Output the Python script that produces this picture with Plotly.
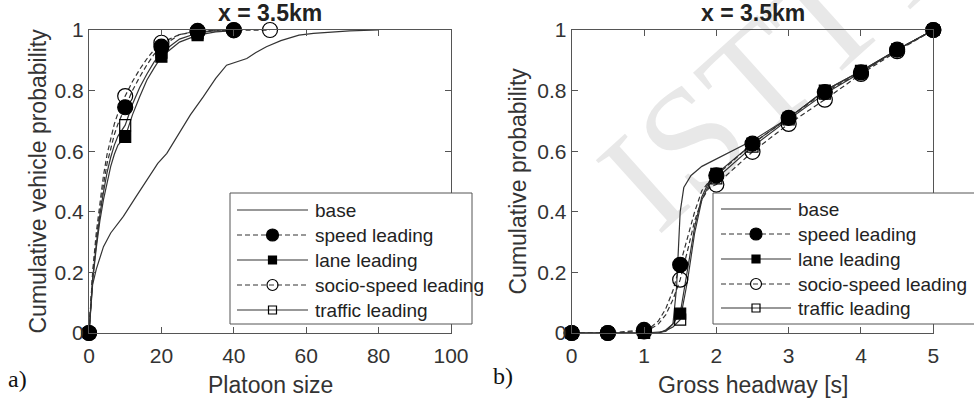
import plotly.graph_objects as go

# ---------------- Panel a: platoon size CDF ----------------
a_base_x = [0, 1, 2, 4, 6, 9.5, 13, 16, 19, 21.5, 25, 28, 31.6, 35, 38, 41, 43.6, 46, 49, 53, 58, 62, 66, 72, 80]
a_base_y = [0, 0.16, 0.21, 0.285, 0.33, 0.385, 0.45, 0.505, 0.56, 0.593, 0.66, 0.72, 0.78, 0.84, 0.884, 0.897, 0.906, 0.925, 0.945, 0.965, 0.983, 0.989, 0.993, 0.997, 1.0]

a_speed_x = [0, 1, 2, 3, 4, 5, 6, 7, 8, 10, 12, 14, 16, 18, 20, 25, 30, 35, 40]
a_speed_y = [0, 0.19, 0.31, 0.41, 0.49, 0.56, 0.61, 0.655, 0.69, 0.745, 0.80, 0.845, 0.885, 0.92, 0.945, 0.985, 0.997, 0.999, 1.0]
a_speed_mk = [0, 10, 20, 30, 40]

a_lane_x = [0, 1, 2, 3, 4, 5, 6, 7, 8, 10, 12, 14, 16, 18, 20, 25, 30, 35, 40]
a_lane_y = [0, 0.17, 0.28, 0.37, 0.44, 0.50, 0.55, 0.59, 0.62, 0.647, 0.72, 0.78, 0.835, 0.875, 0.912, 0.96, 0.983, 0.994, 0.998]
a_lane_mk = [0, 10, 20, 30]

a_socio_x = [0, 1, 2, 3, 4, 5, 6, 7, 8, 10, 12, 14, 16, 18, 20, 25, 30, 40, 50]
a_socio_y = [0, 0.20, 0.33, 0.43, 0.52, 0.59, 0.645, 0.69, 0.725, 0.782, 0.83, 0.87, 0.905, 0.935, 0.958, 0.985, 0.995, 0.999, 1.0]
a_socio_mk = [0, 10, 20, 30, 40, 50]

a_traffic_x = [0, 1, 2, 3, 4, 5, 6, 7, 8, 10, 12, 14, 16, 18, 20, 25, 30, 35]
a_traffic_y = [0, 0.18, 0.29, 0.39, 0.465, 0.53, 0.58, 0.62, 0.65, 0.686, 0.755, 0.81, 0.855, 0.895, 0.925, 0.97, 0.99, 0.998]
a_traffic_mk = [0, 10, 20, 30]

# ---------------- Panel b: gross headway CDF ----------------
b_base_x = [0, 0.5, 1, 1.3, 1.4, 1.45, 1.5, 1.55, 1.65, 1.8, 2, 2.5, 3, 3.5, 4, 4.5, 5]
b_base_y = [0, 0, 0, 0.005, 0.03, 0.15, 0.40, 0.48, 0.52, 0.55, 0.575, 0.635, 0.71, 0.80, 0.865, 0.935, 1.0]

b_speed_x = [0, 0.5, 1, 1.1, 1.2, 1.3, 1.4, 1.5, 1.6, 1.7, 1.8, 1.9, 2, 2.5, 3, 3.5, 4, 4.5, 5]
b_speed_y = [0, 0, 0.01, 0.02, 0.04, 0.08, 0.14, 0.225, 0.31, 0.40, 0.47, 0.50, 0.52, 0.625, 0.71, 0.795, 0.86, 0.935, 1.0]

b_lane_x = [0, 0.5, 1, 1.2, 1.3, 1.4, 1.5, 1.6, 1.7, 1.8, 1.9, 2, 2.5, 3, 3.5, 4, 4.5, 5]
b_lane_y = [0, 0, 0, 0.0, 0.01, 0.03, 0.064, 0.20, 0.35, 0.45, 0.50, 0.525, 0.625, 0.71, 0.80, 0.865, 0.935, 1.0]

b_socio_x = [0, 0.5, 1, 1.1, 1.2, 1.3, 1.4, 1.5, 1.6, 1.7, 1.8, 1.9, 2, 2.5, 3, 3.5, 4, 4.5, 5]
b_socio_y = [0, 0, 0.005, 0.015, 0.03, 0.06, 0.11, 0.176, 0.27, 0.37, 0.44, 0.48, 0.49, 0.598, 0.69, 0.77, 0.855, 0.93, 1.0]

b_traffic_x = [0, 0.5, 1, 1.2, 1.3, 1.4, 1.5, 1.6, 1.7, 1.8, 1.9, 2, 2.5, 3, 3.5, 4, 4.5, 5]
b_traffic_y = [0, 0, 0, 0.0, 0.008, 0.02, 0.044, 0.17, 0.33, 0.44, 0.49, 0.51, 0.615, 0.705, 0.79, 0.86, 0.935, 1.0]

b_marker_x = [0, 0.5, 1, 1.5, 2, 2.5, 3, 3.5, 4, 4.5, 5]

series_names = ["base", "speed leading", "lane leading", "socio-speed leading", "traffic leading"]
a_xticks = [0, 20, 40, 60, 80, 100]
b_xticks = [0, 1, 2, 3, 4, 5]
y_ticks = [0, 0.2, 0.4, 0.6, 0.8, 1]
y_ticklabels = ["0", "0.2", "0.4", "0.6", "0.8", "1"]

# ---------------- styling ----------------
W, H = 974, 400
LINE = "#333333"
MK = "#000000"
DASH = "5px,3px"
FONT = "Liberation Sans, Arial, Helvetica, sans-serif"
SERIF = "Liberation Serif, Times New Roman, serif"

styles = {
    "base": dict(dash="solid", symbol=None),
    "speed leading": dict(dash=DASH, symbol="circle", size=15, lsize=12),
    "lane leading": dict(dash="solid", symbol="square", size=11, lsize=8),
    "socio-speed leading": dict(dash=DASH, symbol="circle-open", size=15, lsize=11),
    "traffic leading": dict(dash="solid", symbol="square-open", size=11, lsize=8),
}


def pick(xs, ys, targets):
    return [ys[xs.index(t)] for t in targets]


fig = go.Figure()


def add_panel(xa, ya, curves, marker_sets):
    for name, (cx, cy) in zip(series_names, curves):
        st = styles[name]
        fig.add_trace(go.Scatter(x=cx, y=cy, mode="lines", xaxis=xa, yaxis=ya,
                                 line=dict(color=LINE, width=1.2, dash=st["dash"]),
                                 showlegend=False, hoverinfo="skip", cliponaxis=False))
    for name, (cx, cy), mxs in zip(series_names, curves, marker_sets):
        st = styles[name]
        if mxs is None:
            continue
        fig.add_trace(go.Scatter(
            x=mxs, y=pick(cx, cy, mxs), mode="markers", xaxis=xa, yaxis=ya,
            marker=dict(symbol=st["symbol"], size=st["size"], color=MK,
                        line=dict(color=MK, width=1.2)),
            showlegend=False, cliponaxis=False, hoverinfo="skip"))


add_panel("x", "y",
          [(a_base_x, a_base_y), (a_speed_x, a_speed_y), (a_lane_x, a_lane_y),
           (a_socio_x, a_socio_y), (a_traffic_x, a_traffic_y)],
          [None, a_speed_mk, a_lane_mk, a_socio_mk, a_traffic_mk])

add_panel("x2", "y2",
          [(b_base_x, b_base_y), (b_speed_x, b_speed_y), (b_lane_x, b_lane_y),
           (b_socio_x, b_socio_y), (b_traffic_x, b_traffic_y)],
          [None, b_marker_x, b_marker_x, b_marker_x, b_marker_x])

ax_common = dict(showline=True, linecolor="#555555", linewidth=1, mirror="ticks",
                 ticks="inside", ticklen=6, tickcolor="#555555", showgrid=False,
                 zeroline=False, tickfont=dict(family=FONT, size=21, color="#333333"),
                 fixedrange=True)

x_a = [89 / W, 451 / W]
x_b = [571.7 / W, 933.3 / W]
y_dom = [1 - 333 / H, 1 - 30 / H]

fig.update_layout(
    width=W, height=H,
    margin=dict(l=0, r=0, t=0, b=0, autoexpand=False),
    paper_bgcolor="white", plot_bgcolor="rgba(0,0,0,0)",
    font=dict(family=FONT, color="#333333"),
    xaxis=dict(domain=x_a, range=[0, 100], tickvals=a_xticks, anchor="y", ticklabelstandoff=4, **ax_common),
    yaxis=dict(domain=y_dom, range=[0, 1], tickvals=y_ticks, ticktext=y_ticklabels, anchor="x", **ax_common),
    xaxis2=dict(domain=x_b, range=[0, 5], tickvals=b_xticks, anchor="y2", ticklabelstandoff=4, **ax_common),
    yaxis2=dict(domain=y_dom, range=[0, 1], tickvals=y_ticks, ticktext=y_ticklabels, anchor="x2", **ax_common),
    showlegend=False,
)


def px(x):
    return x / W


def py(y):
    return 1 - y / H


# ---------------- legends (MATLAB style, long line samples) ----------------
def draw_legend(bx0, bx1, btop, bbot, lx0, lx1, tx, rows):
    fig.add_shape(type="rect", xref="paper", yref="paper", x0=px(bx0), x1=px(bx1),
                  y0=py(bbot), y1=py(btop), fillcolor="white",
                  line=dict(color="#555555", width=1), layer="above")
    for name, ry in zip(series_names, rows):
        st = styles[name]
        fig.add_shape(type="line", xref="paper", yref="paper", x0=px(lx0), x1=px(lx1),
                      y0=py(ry), y1=py(ry), line=dict(color=LINE, width=1.2, dash=st["dash"]),
                      layer="above")
        if st["symbol"] is not None:
            r = st["lsize"] / 2
            filled = not st["symbol"].endswith("open")
            fig.add_shape(type="circle" if st["symbol"].startswith("circle") else "rect",
                          xref="paper", yref="paper", xsizemode="pixel", ysizemode="pixel",
                          xanchor=px((lx0 + lx1) / 2), yanchor=py(ry),
                          x0=-r, x1=r, y0=-r, y1=r,
                          fillcolor=MK if filled else "rgba(0,0,0,0)",
                          line=dict(color=MK, width=1.2), layer="above")
        fig.add_annotation(text=name, xref="paper", yref="paper", x=px(tx), y=py(ry),
                           xanchor="left", yanchor="middle", showarrow=False,
                           font=dict(family=FONT, size=19, color="#222222"))


draw_legend(230, 472, 193, 324, 237, 308, 313, [210, 235, 260, 285, 310])
draw_legend(713, 990, 193, 324, 721, 791, 796, [209, 234, 259, 284, 308])

annos = [
    dict(text="<b>x = 3.5km</b>", x=(x_a[0] + x_a[1]) / 2, y=py(13), font=dict(size=23, family=FONT, color="#222")),
    dict(text="<b>x = 3.5km</b>", x=(x_b[0] + x_b[1]) / 2, y=py(13), font=dict(size=23, family=FONT, color="#222")),
    dict(text="Platoon size", x=(x_a[0] + x_a[1]) / 2, y=py(385), font=dict(size=23, family=FONT, color="#333")),
    dict(text="Gross headway [s]", x=(x_b[0] + x_b[1]) / 2, y=py(385), font=dict(size=23, family=FONT, color="#333")),
    dict(text="Cumulative vehicle probability", x=px(37), y=py(181.5), textangle=-90,
         font=dict(size=23, family=FONT, color="#333")),
    dict(text="Cumulative probability", x=px(517), y=py(181.5), textangle=-90,
         font=dict(size=23, family=FONT, color="#333")),
    dict(text="a)", x=px(17), y=py(379), font=dict(size=24, family=SERIF, color="#111")),
    dict(text="b)", x=px(503), y=py(376), font=dict(size=24, family=SERIF, color="#111")),
]
for a in annos:
    fig.add_annotation(xref="paper", yref="paper", xanchor="center", yanchor="middle",
                       showarrow=False, **a)

# watermark
fig.add_shape(type="line", xref="paper", yref="paper", x0=px(620), x1=px(1020),
              y0=py(280), y1=py(-50), line=dict(width=0, color="rgba(0,0,0,0)"),
              layer="below",
              label=dict(text="ISTTT", font=dict(family=SERIF, size=150, color="#e8e8e8"),
                         textposition="middle", textangle=-42))

fig.write_html("out.html", config={"displayModeBar": False},
               post_script="document.body.style.margin='0';")
